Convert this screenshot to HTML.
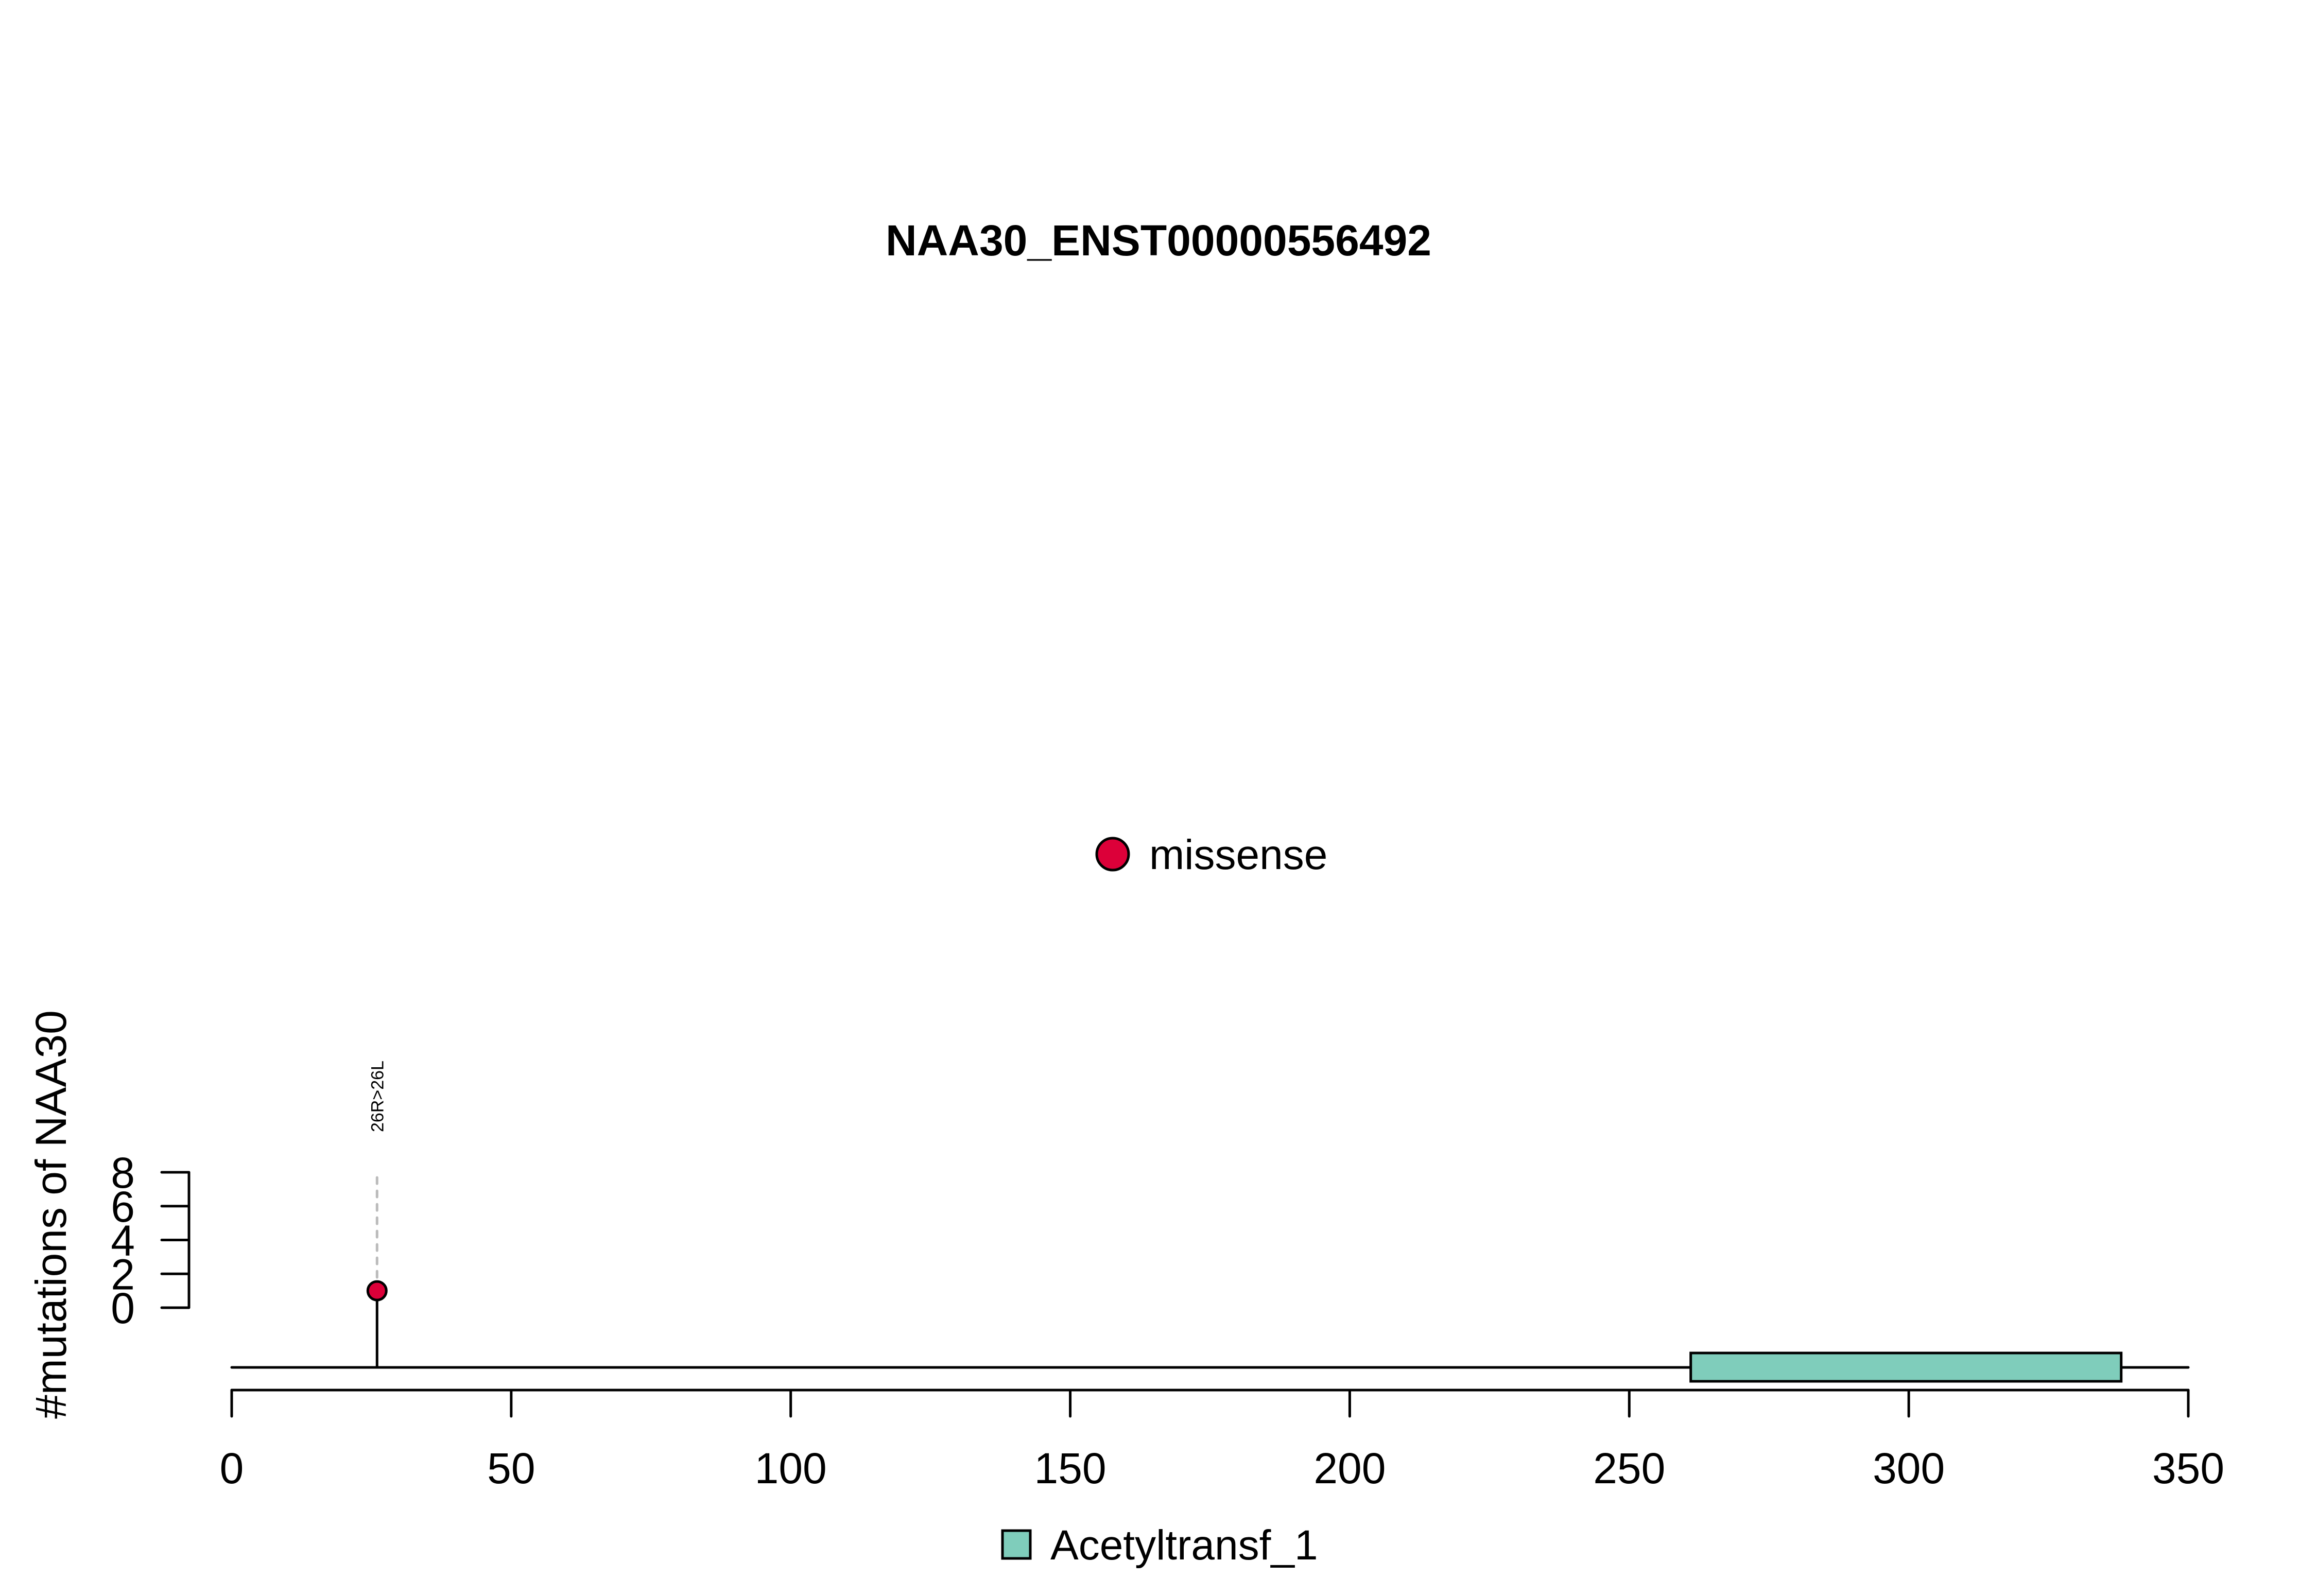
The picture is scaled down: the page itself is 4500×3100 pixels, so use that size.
<!DOCTYPE html>
<html>
<head>
<meta charset="utf-8">
<style>
  html, body { margin: 0; padding: 0; background: #ffffff; }
  svg { display: block; }
  text { font-family: "Liberation Sans", Arial, sans-serif; fill: #000; }
</style>
</head>
<body>
<svg id="chart" width="4500" height="3100" viewBox="0 0 4500 3100" xmlns="http://www.w3.org/2000/svg">
  <rect x="0" y="0" width="4500" height="3100" fill="#ffffff"/>
  <text x="2250" y="496" font-size="84" font-weight="bold" text-anchor="middle">NAA30_ENST00000556492</text>

  <g>
    <circle cx="2161" cy="1659" r="31" fill="#dc0039" stroke="#000" stroke-width="5"/>
    <text x="2232" y="1688" font-size="82">missense</text>
  </g>

  <text transform="translate(128,2359) rotate(-90)" font-size="84" text-anchor="middle">#mutations of NAA30</text>

  <g id="xaxis"></g>
  <g id="yaxis"></g>
  <g id="marks"></g>

  <g>
    <rect x="1947" y="2973" width="54" height="54" fill="#7fcdbb" stroke="#000" stroke-width="5"/>
    <text x="2040" y="3029" font-size="82">Acetyltransf_1</text>
  </g>
</svg>
<script>
const xTicks = [0, 50, 100, 150, 200, 250, 300, 350];
const yTicks = [0, 2, 4, 6, 8];
const proteinLength = [350];
const mutPositions = [26];
const mutCounts = [1];
const mutLabels = ["26R>26L"];
const domainNames = ["Acetyltransf_1"];
const domainStarts = [261];
const domainEnds = [338];

const NS = "http://www.w3.org/2000/svg";
const X0 = 450, X1 = 4250;
const xScale = v => X0 + (v - xTicks[0]) / (xTicks[xTicks.length - 1] - xTicks[0]) * (X1 - X0);
const Y0 = 2540, Y1 = 2277;
const yScale = v => Y0 - (v - yTicks[0]) / (yTicks[yTicks.length - 1] - yTicks[0]) * (Y0 - Y1);
const backboneY = 2656;

function mk(tag, attrs, parent) {
  const e = document.createElementNS(NS, tag);
  for (const k in attrs) e.setAttribute(k, attrs[k]);
  parent.appendChild(e);
  return e;
}

const xg = document.getElementById('xaxis');
let el = mk('line', {x1: xScale(xTicks[0]), x2: xScale(xTicks[xTicks.length-1]), y1: 2700, y2: 2700, stroke: '#000', 'stroke-width': 5, 'stroke-linecap': 'round'}, xg);


xTicks.forEach(t => {
  const tk = mk('line', {x1: xScale(t), x2: xScale(t), y1: 2700, y2: 2751, stroke: '#000', 'stroke-width': 5, 'stroke-linecap': 'round'}, xg);
  
  
  const lb = mk('text', {x: xScale(t), y: 2881, 'font-size': 84, 'text-anchor': 'middle'}, xg);
  lb.textContent = t;
  
  
});

const yg = document.getElementById('yaxis');
el = mk('line', {x1: 367, x2: 367, y1: yScale(yTicks[0]), y2: yScale(yTicks[yTicks.length-1]), stroke: '#000', 'stroke-width': 5}, yg);


yTicks.forEach(t => {
  const tk = mk('line', {x1: 314, x2: 367, y1: yScale(t), y2: yScale(t), stroke: '#000', 'stroke-width': 5, 'stroke-linecap': 'round'}, yg);
  
  
  const lb = mk('text', {x: 262, y: yScale(t) + 30, 'font-size': 84, 'text-anchor': 'end'}, yg);
  lb.textContent = t;
  
  
});

const mg = document.getElementById('marks');
el = mk('line', {x1: xScale(0), x2: xScale(proteinLength[0]), y1: backboneY, y2: backboneY, stroke: '#000', 'stroke-width': 5, 'stroke-linecap': 'round'}, mg);



domainStarts.forEach((s, i) => {
  const r = mk('rect', {x: xScale(s), y: 2628, width: xScale(domainEnds[i]) - xScale(s), height: 55, fill: '#7fcdbb', stroke: '#000', 'stroke-width': 5}, mg);
  
  
});

mutPositions.forEach((p, i) => {
  const cx = xScale(p);
  const cy = yScale(mutCounts[i]);
  const d = mk('line', {x1: cx, x2: cx, y1: cy, y2: yScale(yTicks[yTicks.length-1]), stroke: '#bbbbbb', 'stroke-width': 5, 'stroke-dasharray': '12,14', 'stroke-linecap': 'round'}, mg);
  
  
  const st = mk('line', {x1: cx, x2: cx, y1: cy, y2: backboneY, stroke: '#000', 'stroke-width': 5}, mg);
  
  
  const c = mk('circle', {cx: cx, cy: cy, r: 18, fill: '#dc0039', stroke: '#000', 'stroke-width': 5}, mg);
  
  
  const t = mk('text', {transform: 'translate(' + (cx + 12) + ',2199) rotate(-90)', 'font-size': 34}, mg);
  t.textContent = mutLabels[i];
  
  
});
</script>
</body>
</html>
